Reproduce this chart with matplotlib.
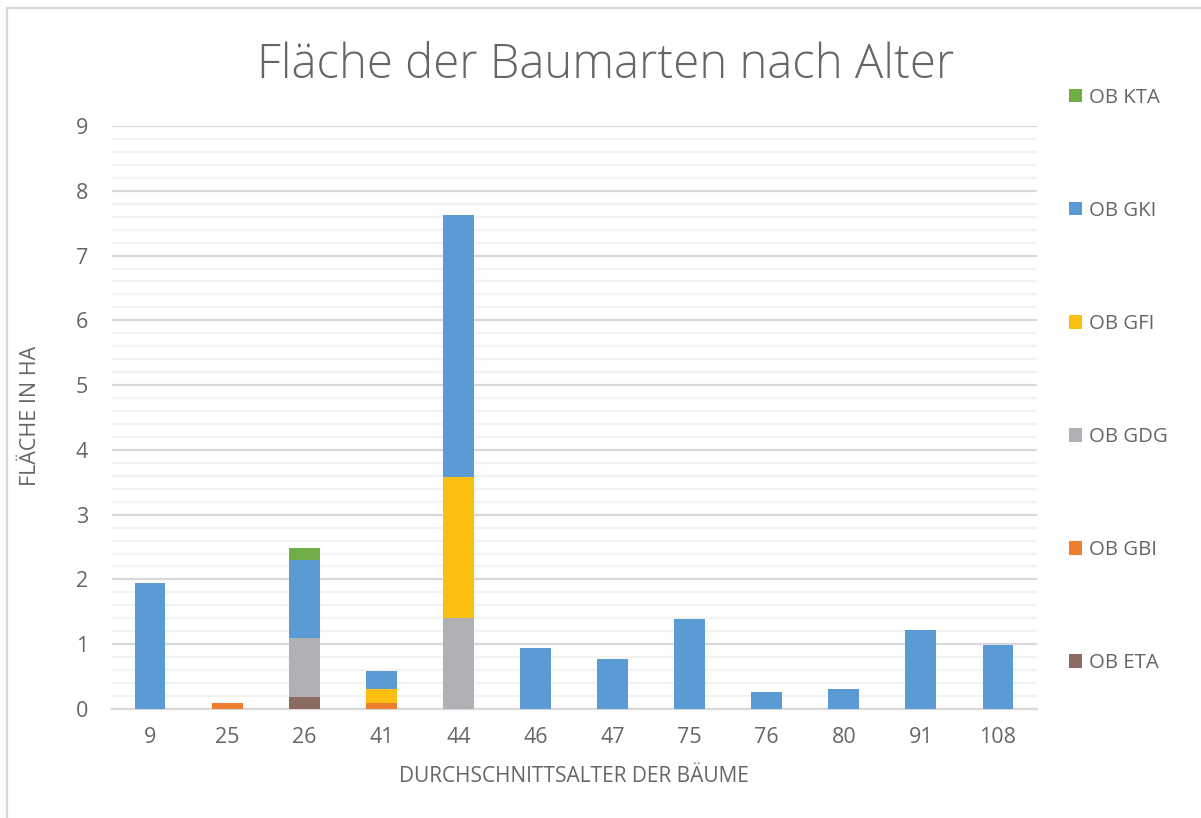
import matplotlib
matplotlib.use("Agg")
import matplotlib.pyplot as plt
from matplotlib.patches import Rectangle, Patch
from matplotlib.ticker import MultipleLocator
import numpy as np

plt.rcParams['font.family'] = ['Open Sans', 'DejaVu Sans']

categories = ['9', '25', '26', '41', '44', '46', '47', '75', '76', '80', '91', '108']
series_names = ['OB ETA', 'OB GBI', 'OB GDG', 'OB GFI', 'OB GKI', 'OB KTA']
ob_eta = [0, 0, 0.18, 0, 0, 0, 0, 0, 0, 0, 0, 0]
ob_gbi = [0, 0.10, 0, 0.10, 0, 0, 0, 0, 0, 0, 0, 0]
ob_gdg = [0, 0, 0.92, 0, 1.41, 0, 0, 0, 0, 0, 0, 0]
ob_gfi = [0, 0, 0, 0.21, 2.17, 0, 0, 0, 0, 0, 0, 0]
ob_gki = [1.95, 0, 1.20, 0.27, 4.05, 0.94, 0.77, 1.39, 0.26, 0.31, 1.22, 0.99]
ob_kta = [0, 0, 0.18, 0, 0, 0, 0, 0, 0, 0, 0, 0]
series_values = [ob_eta, ob_gbi, ob_gdg, ob_gfi, ob_gki, ob_kta]
colors = ['#8D6B63', '#ED7D31', '#B0B1B4', '#FBBF12', '#5B9BD5', '#70AD47']

TXT = '#666666'
W, H = 1201, 818
fig = plt.figure(figsize=(W / 100, H / 100), dpi=100)

# outer chart border (partly cut off, as in the reference)
fig.patches.append(Rectangle((7 / W, -0.1), 1.2, 1 - 8 / H + 0.1,
                             transform=fig.transFigure, fill=False,
                             edgecolor='#D9D9D9', linewidth=1.6))

ax = fig.add_axes([111.5 / W, 1 - 709 / H, (1036.5 - 111.5) / W, (709 - 126) / H])
x = np.arange(len(categories))
bottom = np.zeros(len(categories))
handles = []
for name, vals, c in zip(series_names, series_values, colors):
    v = np.array(vals, dtype=float)
    ax.bar(x, v, width=0.40, bottom=bottom, color=c, zorder=3, linewidth=0)
    bottom += v
    handles.append(Patch(facecolor=c, edgecolor='none', label=name))

ax.set_xlim(-0.5, len(categories) - 0.5)
ax.set_ylim(0, 9)
ax.yaxis.set_major_locator(MultipleLocator(1))
ax.yaxis.set_minor_locator(MultipleLocator(0.2))
ax.grid(which='major', axis='y', color='#D9D9D9', linewidth=1.6, zorder=1)
ax.grid(which='minor', axis='y', color='#F2F2F2', linewidth=1.6, zorder=0)
ax.set_xticks(x)
ax.set_xticklabels(categories)
for s in ['top', 'right', 'left']:
    ax.spines[s].set_visible(False)
ax.spines['bottom'].set_color('#D9D9D9')
ax.spines['bottom'].set_linewidth(1.6)
ax.tick_params(axis='both', which='both', length=0, labelsize=15.5, labelcolor=TXT)
ax.tick_params(axis='y', pad=17)
ax.tick_params(axis='x', pad=13)

ax.set_xlabel('DURCHSCHNITTSALTER DER BÄUME', fontsize=15, color=TXT)
ax.xaxis.set_label_coords((574 - 111.5) / (1036.5 - 111.5), -(776 - 709) / (709 - 126))
ax.set_ylabel('FLÄCHE IN HA', fontsize=15.5, color=TXT)
ax.yaxis.set_label_coords(-(111.5 - 30) / (1036.5 - 111.5), (709 - 416) / (709 - 126))
for lab in (ax.xaxis.label, ax.yaxis.label):
    lab.set_va('center')
    lab.set_ha('center')

fig.text(606 / W, 1 - 66 / H, 'Fläche der Baumarten nach Alter', fontsize=34,
         color=TXT, ha='center', va='center', fontweight='light')

leg = fig.legend(handles=handles[::-1], loc='center left',
                 bbox_to_anchor=(1069 / W, 1 - 380.5 / H), frameon=False,
                 fontsize=14.7, labelcolor=TXT, handlelength=0.65, handleheight=0.65,
                 handletextpad=0.35, labelspacing=4.56, borderpad=0, borderaxespad=0)

fig.savefig('out.png', dpi=100)
